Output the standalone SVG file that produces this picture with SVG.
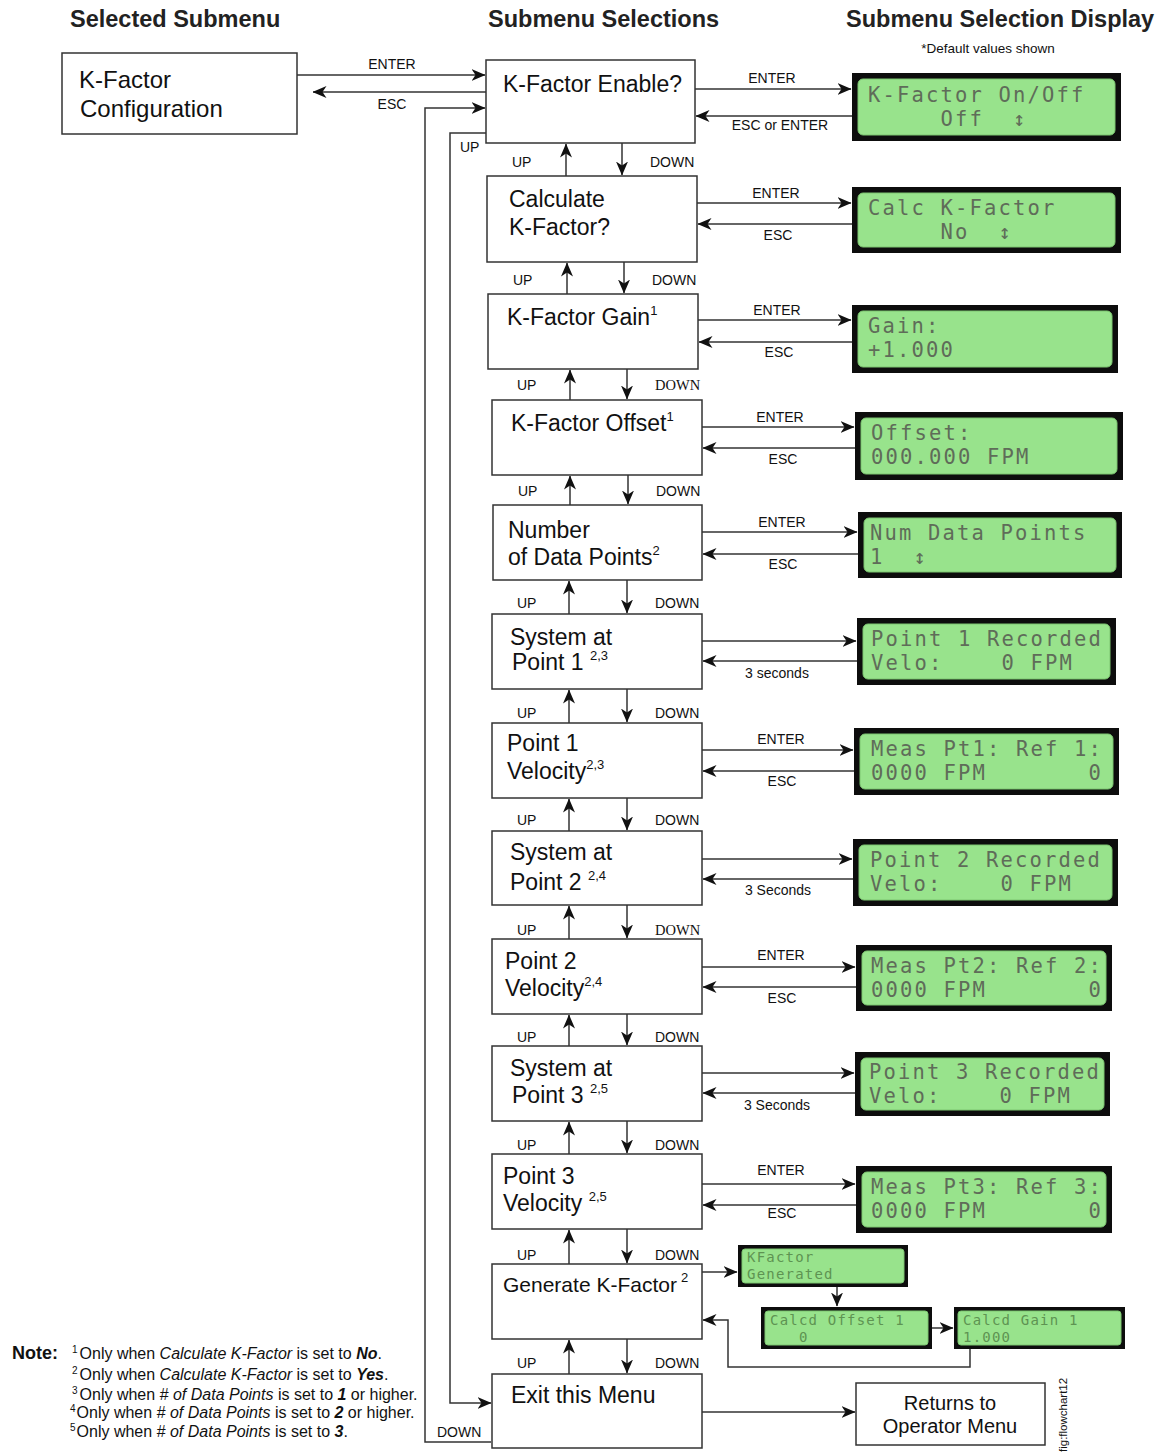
<svg xmlns="http://www.w3.org/2000/svg" width="1161" height="1453" viewBox="0 0 1161 1453">
<style>
text{font-family:"Liberation Sans",Arial,sans-serif;fill:#111}
.h{font-size:23.5px;font-weight:bold;fill:#222}
.n{font-size:23px}
.sup{font-size:13px}
.l{font-size:14px}
.lc{font-size:14px;text-anchor:middle}
.sf{font-family:"Liberation Serif","Times New Roman",serif;font-size:14.5px}
.box{fill:#fff;stroke:#333;stroke-width:1.5}
.lcdo{fill:#0d0d0d}
.lcdi{fill:#98e38c;stroke:#7cc570;stroke-width:1}
.lcd{font-family:"DejaVu Sans Mono",monospace;font-size:20.5px;letter-spacing:2.15px;fill:#5f6c59;white-space:pre}
.lcds{font-family:"DejaVu Sans Mono",monospace;font-size:14px;letter-spacing:1.2px;fill:#5e9352;white-space:pre}
.note{font-size:16px}
.ns{font-size:10px}
.c{fill:none;stroke:#333;stroke-width:1.5}
</style>
<defs>
<marker id="ah" markerWidth="14" markerHeight="12" refX="13.5" refY="6" orient="auto" markerUnits="userSpaceOnUse">
<path d="M0,0 L14,6 L0,12 L4,6 z" fill="#111"/>
</marker>
</defs>
<rect width="1161" height="1453" fill="#fff"/>

<g id="headers">
<text class="h" x="70" y="27">Selected Submenu</text>
<text class="h" x="488" y="27">Submenu Selections</text>
<text class="h" x="846" y="27">Submenu Selection Display</text>
<text x="988" y="53" font-size="13.5" text-anchor="middle">*Default values shown</text>
</g>

<g id="connectors">
<path class="c" d="M297,75 H485" marker-end="url(#ah)"/>
<path class="c" d="M486,92 H313" marker-end="url(#ah)"/>
<path class="c" d="M486,133 H450 V1403 H491" marker-end="url(#ah)"/>
<path class="c" d="M491,1442 H425 V108 H485" marker-end="url(#ah)"/>

<path class="c" d="M566,176 V144" marker-end="url(#ah)"/>
<path class="c" d="M622,143 V175" marker-end="url(#ah)"/>
<path class="c" d="M567,294 V263" marker-end="url(#ah)"/>
<path class="c" d="M624,262 V293" marker-end="url(#ah)"/>
<path class="c" d="M570,400 V370" marker-end="url(#ah)"/>
<path class="c" d="M627,369 V399" marker-end="url(#ah)"/>
<path class="c" d="M570,505 V476" marker-end="url(#ah)"/>
<path class="c" d="M628,475 V504" marker-end="url(#ah)"/>
<path class="c" d="M569,614 V581" marker-end="url(#ah)"/>
<path class="c" d="M627,580 V613" marker-end="url(#ah)"/>
<path class="c" d="M569,723 V690" marker-end="url(#ah)"/>
<path class="c" d="M627,689 V722" marker-end="url(#ah)"/>
<path class="c" d="M569,831 V799" marker-end="url(#ah)"/>
<path class="c" d="M627,798 V830" marker-end="url(#ah)"/>
<path class="c" d="M569,939 V906" marker-end="url(#ah)"/>
<path class="c" d="M627,905 V938" marker-end="url(#ah)"/>
<path class="c" d="M569,1046 V1015" marker-end="url(#ah)"/>
<path class="c" d="M627,1014 V1045" marker-end="url(#ah)"/>
<path class="c" d="M569,1154 V1122" marker-end="url(#ah)"/>
<path class="c" d="M627,1121 V1153" marker-end="url(#ah)"/>
<path class="c" d="M569,1264 V1230" marker-end="url(#ah)"/>
<path class="c" d="M627,1229 V1263" marker-end="url(#ah)"/>
<path class="c" d="M569,1374 V1340" marker-end="url(#ah)"/>
<path class="c" d="M627,1339 V1373" marker-end="url(#ah)"/>

<path class="c" d="M695,89 H851" marker-end="url(#ah)"/>
<path class="c" d="M852,116 H696" marker-end="url(#ah)"/>
<path class="c" d="M697,203 H851" marker-end="url(#ah)"/>
<path class="c" d="M852,224 H698" marker-end="url(#ah)"/>
<path class="c" d="M698,320 H851" marker-end="url(#ah)"/>
<path class="c" d="M852,342 H699" marker-end="url(#ah)"/>
<path class="c" d="M702,427 H854" marker-end="url(#ah)"/>
<path class="c" d="M855,448 H703" marker-end="url(#ah)"/>
<path class="c" d="M702,532 H857" marker-end="url(#ah)"/>
<path class="c" d="M858,554 H703" marker-end="url(#ah)"/>
<path class="c" d="M702,641 H856" marker-end="url(#ah)"/>
<path class="c" d="M857,661 H703" marker-end="url(#ah)"/>
<path class="c" d="M702,750 H853" marker-end="url(#ah)"/>
<path class="c" d="M854,771 H703" marker-end="url(#ah)"/>
<path class="c" d="M702,859 H852" marker-end="url(#ah)"/>
<path class="c" d="M853,879 H703" marker-end="url(#ah)"/>
<path class="c" d="M702,967 H855" marker-end="url(#ah)"/>
<path class="c" d="M856,987 H703" marker-end="url(#ah)"/>
<path class="c" d="M702,1073 H854" marker-end="url(#ah)"/>
<path class="c" d="M855,1093 H703" marker-end="url(#ah)"/>
<path class="c" d="M702,1184 H855" marker-end="url(#ah)"/>
<path class="c" d="M856,1205 H703" marker-end="url(#ah)"/>

<path class="c" d="M702,1272 H737" marker-end="url(#ah)"/>
<path class="c" d="M837,1287 V1306" marker-end="url(#ah)"/>
<path class="c" d="M932,1328 H953" marker-end="url(#ah)"/>
<path class="c" d="M970,1349 V1367 H728 V1320 H703" marker-end="url(#ah)"/>
<path class="c" d="M702,1412 H855" marker-end="url(#ah)"/>

<text class="lc" x="392" y="69">ENTER</text>
<text class="lc" x="392" y="109">ESC</text>
<text class="l" x="460" y="152">UP</text>
<text class="l" x="437" y="1437">DOWN</text>

<text class="l" x="512" y="167">UP</text><text class="l" x="650" y="167">DOWN</text>
<text class="l" x="513" y="285">UP</text><text class="l" x="652" y="285">DOWN</text>
<text class="l" x="517" y="390">UP</text><text class="sf" x="655" y="390">DOWN</text>
<text class="l" x="518" y="496">UP</text><text class="l" x="656" y="496">DOWN</text>
<text class="l" x="517" y="608">UP</text><text class="l" x="655" y="608">DOWN</text>
<text class="l" x="517" y="718">UP</text><text class="l" x="655" y="718">DOWN</text>
<text class="l" x="517" y="825">UP</text><text class="l" x="655" y="825">DOWN</text>
<text class="l" x="517" y="935">UP</text><text class="sf" x="655" y="935">DOWN</text>
<text class="l" x="517" y="1042">UP</text><text class="l" x="655" y="1042">DOWN</text>
<text class="l" x="517" y="1150">UP</text><text class="l" x="655" y="1150">DOWN</text>
<text class="l" x="517" y="1260">UP</text><text class="l" x="655" y="1260">DOWN</text>
<text class="l" x="517" y="1368">UP</text><text class="l" x="655" y="1368">DOWN</text>

<text class="lc" x="772" y="83">ENTER</text><text class="lc" x="780" y="130">ESC or ENTER</text>
<text class="lc" x="776" y="198">ENTER</text><text class="lc" x="778" y="240">ESC</text>
<text class="lc" x="777" y="315">ENTER</text><text class="lc" x="779" y="357">ESC</text>
<text class="lc" x="780" y="422">ENTER</text><text class="lc" x="783" y="464">ESC</text>
<text class="lc" x="782" y="527">ENTER</text><text class="lc" x="783" y="569">ESC</text>
<text class="lc" x="777" y="678">3 seconds</text>
<text class="lc" x="781" y="744">ENTER</text><text class="lc" x="782" y="786">ESC</text>
<text class="lc" x="778" y="895">3 Seconds</text>
<text class="lc" x="781" y="960">ENTER</text><text class="lc" x="782" y="1003">ESC</text>
<text class="lc" x="777" y="1110">3 Seconds</text>
<text class="lc" x="781" y="1175">ENTER</text><text class="lc" x="782" y="1218">ESC</text>
</g>

<g id="n-config"><rect class="box" x="62" y="53" width="235" height="81"/>
<text x="79" y="88" font-size="24">K-Factor</text><text x="80" y="117" font-size="24" fill="#333">Configuration</text></g>

<g id="n-enable"><rect class="box" x="486" y="60" width="209" height="83"/>
<text class="n" x="503" y="92">K-Factor Enable?</text></g>
<g id="n-calc"><rect class="box" x="487" y="176" width="210" height="86"/>
<text class="n" x="509" y="207">Calculate</text><text class="n" x="509" y="235">K-Factor?</text></g>
<g id="n-gain"><rect class="box" x="488" y="294" width="210" height="75"/>
<text class="n" x="507" y="325">K-Factor Gain<tspan class="sup" dy="-10">1</tspan></text></g>
<g id="n-offset"><rect class="box" x="492" y="400" width="210" height="75"/>
<text class="n" x="511" y="431">K-Factor Offset<tspan class="sup" dy="-10">1</tspan></text></g>
<g id="n-numpts"><rect class="box" x="493" y="505" width="209" height="75"/>
<text class="n" x="508" y="538">Number</text><text class="n" x="508" y="565">of Data Points<tspan class="sup" dy="-10">2</tspan></text></g>
<g id="n-sys1"><rect class="box" x="492" y="614" width="210" height="75"/>
<text class="n" x="510" y="645">System at</text><text class="n" x="512" y="670">Point 1 <tspan class="sup" dy="-10">2,3</tspan></text></g>
<g id="n-vel1"><rect class="box" x="492" y="723" width="210" height="75"/>
<text class="n" x="507" y="751">Point 1</text><text class="n" x="507" y="779">Velocity<tspan class="sup" dy="-10">2,3</tspan></text></g>
<g id="n-sys2"><rect class="box" x="492" y="831" width="210" height="74"/>
<text class="n" x="510" y="860">System at</text><text class="n" x="510" y="890">Point 2 <tspan class="sup" dy="-10">2,4</tspan></text></g>
<g id="n-vel2"><rect class="box" x="492" y="939" width="210" height="75"/>
<text class="n" x="505" y="969">Point 2</text><text class="n" x="505" y="996">Velocity<tspan class="sup" dy="-10">2,4</tspan></text></g>
<g id="n-sys3"><rect class="box" x="492" y="1046" width="210" height="75"/>
<text class="n" x="510" y="1076">System at</text><text class="n" x="512" y="1103">Point 3 <tspan class="sup" dy="-10">2,5</tspan></text></g>
<g id="n-vel3"><rect class="box" x="492" y="1154" width="210" height="75"/>
<text class="n" x="503" y="1184">Point 3</text><text class="n" x="503" y="1211">Velocity <tspan class="sup" dy="-10">2,5</tspan></text></g>
<g id="n-gen"><rect class="box" x="492" y="1264" width="210" height="75"/>
<text x="503" y="1292" font-size="21">Generate K-Factor<tspan class="sup" dx="4" dy="-10">2</tspan></text></g>
<g id="n-exit"><rect class="box" x="492" y="1374" width="210" height="74"/>
<text class="n" x="511" y="1403">Exit this Menu</text></g>
<g id="n-return"><rect class="box" x="856" y="1383" width="189" height="62"/>
<text x="950" y="1410" font-size="20" text-anchor="middle">Returns to</text>
<text x="950" y="1433" font-size="20" text-anchor="middle">Operator Menu</text></g>

<g id="d-enable"><rect class="lcdo" x="852" y="73" width="269" height="68"/><rect class="lcdi" x="858" y="79" width="257" height="56" rx="5"/>
<text class="lcd" x="868" y="102">K-Factor On/Off</text><text class="lcd" x="868" y="126">     Off  ↕</text></g>
<g id="d-calc"><rect class="lcdo" x="852" y="187" width="269" height="66"/><rect class="lcdi" x="858" y="193" width="257" height="54" rx="5"/>
<text class="lcd" x="868" y="215">Calc K-Factor</text><text class="lcd" x="868" y="239">     No  ↕</text></g>
<g id="d-gain"><rect class="lcdo" x="852" y="305" width="266" height="68"/><rect class="lcdi" x="858" y="311" width="254" height="56" rx="5"/>
<text class="lcd" x="868" y="333">Gain:</text><text class="lcd" x="868" y="357">+1.000</text></g>
<g id="d-offset"><rect class="lcdo" x="855" y="412" width="268" height="68"/><rect class="lcdi" x="861" y="418" width="256" height="56" rx="5"/>
<text class="lcd" x="871" y="440">Offset:</text><text class="lcd" x="871" y="464">000.000 FPM</text></g>
<g id="d-numpts"><rect class="lcdo" x="858" y="512" width="264" height="66"/><rect class="lcdi" x="864" y="518" width="252" height="54" rx="5"/>
<text class="lcd" x="870" y="540">Num Data Points</text><text class="lcd" x="870" y="564">1  ↕</text></g>
<g id="d-rec1"><rect class="lcdo" x="857" y="618" width="259" height="67"/><rect class="lcdi" x="863" y="624" width="247" height="55" rx="5"/>
<text class="lcd" x="871" y="646">Point 1 Recorded</text><text class="lcd" x="871" y="670">Velo:    0 FPM</text></g>
<g id="d-meas1"><rect class="lcdo" x="854" y="728" width="265" height="67"/><rect class="lcdi" x="860" y="734" width="253" height="55" rx="5"/>
<text class="lcd" x="871" y="756">Meas Pt1: Ref 1:</text><text class="lcd" x="871" y="780">0000 FPM       0</text></g>
<g id="d-rec2"><rect class="lcdo" x="853" y="839" width="265" height="67"/><rect class="lcdi" x="859" y="845" width="253" height="55" rx="5"/>
<text class="lcd" x="870" y="867">Point 2 Recorded</text><text class="lcd" x="870" y="891">Velo:    0 FPM</text></g>
<g id="d-meas2"><rect class="lcdo" x="856" y="945" width="256" height="66"/><rect class="lcdi" x="862" y="951" width="244" height="54" rx="5"/>
<text class="lcd" x="871" y="973">Meas Pt2: Ref 2:</text><text class="lcd" x="871" y="997">0000 FPM       0</text></g>
<g id="d-rec3"><rect class="lcdo" x="855" y="1052" width="255" height="64"/><rect class="lcdi" x="861" y="1058" width="243" height="52" rx="5"/>
<text class="lcd" x="869" y="1079">Point 3 Recorded</text><text class="lcd" x="869" y="1103">Velo:    0 FPM</text></g>
<g id="d-meas3"><rect class="lcdo" x="856" y="1166" width="256" height="67"/><rect class="lcdi" x="862" y="1172" width="244" height="55" rx="5"/>
<text class="lcd" x="871" y="1194">Meas Pt3: Ref 3:</text><text class="lcd" x="871" y="1218">0000 FPM       0</text></g>

<g id="d-generated"><rect class="lcdo" x="738" y="1245" width="170" height="42"/><rect class="lcdi" x="742" y="1249" width="162" height="34" rx="3"/>
<text class="lcds" x="747" y="1262">KFactor</text><text class="lcds" x="747" y="1279">Generated</text></g>
<g id="d-calcoffset"><rect class="lcdo" x="761" y="1307" width="171" height="42"/><rect class="lcdi" x="765" y="1311" width="163" height="34" rx="3"/>
<text class="lcds" x="770" y="1325">Calcd Offset 1</text><text class="lcds" x="770" y="1342">   0</text></g>
<g id="d-calcgain"><rect class="lcdo" x="954" y="1307" width="171" height="42"/><rect class="lcdi" x="958" y="1311" width="163" height="34" rx="3"/>
<text class="lcds" x="963" y="1325">Calcd Gain 1</text><text class="lcds" x="963" y="1342">1.000</text></g>

<g id="notes">
<text x="12" y="1359" font-size="18" font-weight="bold">Note:</text>
<text class="note" x="72" y="1359"><tspan class="ns" dy="-6">1</tspan><tspan dy="6" dx="2">Only when </tspan><tspan font-style="italic">Calculate K-Factor</tspan> is set to <tspan font-weight="bold" font-style="italic">No</tspan>.</text>
<text class="note" x="72" y="1380"><tspan class="ns" dy="-6">2</tspan><tspan dy="6" dx="2">Only when </tspan><tspan font-style="italic">Calculate K-Factor</tspan> is set to <tspan font-weight="bold" font-style="italic">Yes</tspan>.</text>
<text class="note" x="72" y="1400"><tspan class="ns" dy="-6">3</tspan><tspan dy="6" dx="2">Only when </tspan><tspan font-style="italic"># of Data Points</tspan> is set to <tspan font-weight="bold" font-style="italic">1</tspan> or higher.</text>
<text class="note" x="70" y="1418"><tspan class="ns" dy="-6">4</tspan><tspan dy="6" dx="1">Only when </tspan><tspan font-style="italic"># of Data Points</tspan> is set to <tspan font-weight="bold" font-style="italic">2</tspan> or higher.</text>
<text class="note" x="70" y="1437"><tspan class="ns" dy="-6">5</tspan><tspan dy="6" dx="1">Only when </tspan><tspan font-style="italic"># of Data Points</tspan> is set to <tspan font-weight="bold" font-style="italic">3</tspan>.</text>
</g>

<text x="0" y="0" font-size="11.5" fill="#555" transform="translate(1067,1452) rotate(-90)">fig:flowchart12</text>
</svg>
